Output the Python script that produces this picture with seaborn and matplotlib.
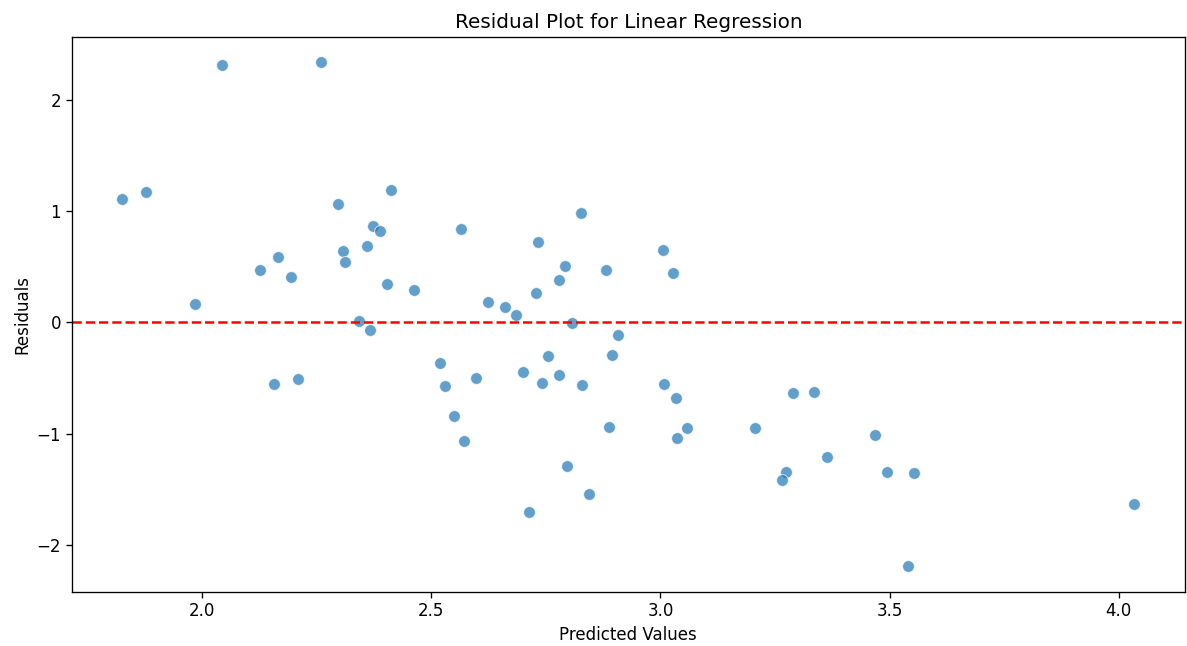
import matplotlib
matplotlib.use("Agg")
import matplotlib.pyplot as plt
import seaborn as sns
import pandas as pd

# Model predictions and their residuals
predicted = [
    1.826, 1.877, 2.043, 2.260, 1.985, 2.126, 2.165, 2.194, 2.296, 2.307,
    2.312, 2.359, 2.372, 2.388, 2.413, 2.404, 2.463, 2.565, 2.343, 2.366,
    2.734, 2.826, 2.792, 2.779, 2.728, 2.881, 3.005, 3.027, 2.624, 2.661,
    2.684, 2.807, 2.907, 2.158, 2.209, 2.520, 2.531, 2.549, 2.571, 2.597,
    2.700, 2.755, 2.742, 2.779, 2.828, 2.894, 2.797, 2.844, 2.714, 2.888,
    3.008, 3.034, 3.058, 3.037, 3.207, 3.275, 3.265, 3.290, 3.335, 3.364,
    3.468, 3.494, 3.554, 3.541, 4.034,
]
residuals = [
    1.109, 1.174, 2.311, 2.341, 0.162, 0.473, 0.590, 0.407, 1.067, 0.644,
    0.540, 0.689, 0.863, 0.818, 1.187, 0.342, 0.290, 0.839, 0.012, -0.069,
    0.722, 0.983, 0.504, 0.378, 0.266, 0.473, 0.647, 0.441, 0.183, 0.140,
    0.063, -0.004, -0.111, -0.552, -0.510, -0.369, -0.576, -0.843, -1.070, -0.498,
    -0.444, -0.303, -0.543, -0.477, -0.564, -0.291, -1.295, -1.547, -1.709, -0.942,
    -0.552, -0.683, -0.951, -1.038, -0.951, -1.343, -1.418, -0.638, -0.629, -1.211,
    -1.016, -1.343, -1.352, -2.194, -1.631,
]

df = pd.DataFrame({"Predicted Values": predicted, "Residuals": residuals})

fig, ax = plt.subplots(figsize=(11.87, 6.46), dpi=100)
fig.subplots_adjust(left=0.0604, right=0.9983, top=0.9432, bottom=0.0841)

sns.scatterplot(data=df, x="Predicted Values", y="Residuals", ax=ax,
                color="#1f77b4", alpha=0.7, s=72, edgecolor="white", linewidth=0.7)
ax.axhline(0, color="red", linestyle="--", linewidth=1.8)

ax.set_title("Residual Plot for Linear Regression", fontsize=14.4)
ax.set_xlabel("Predicted Values", fontsize=12)
ax.set_ylabel("Residuals", fontsize=12)
ax.tick_params(labelsize=12, length=4.2, width=0.96)
for sp in ax.spines.values():
    sp.set_linewidth(0.96)

fig.savefig("out.png", dpi=100)
